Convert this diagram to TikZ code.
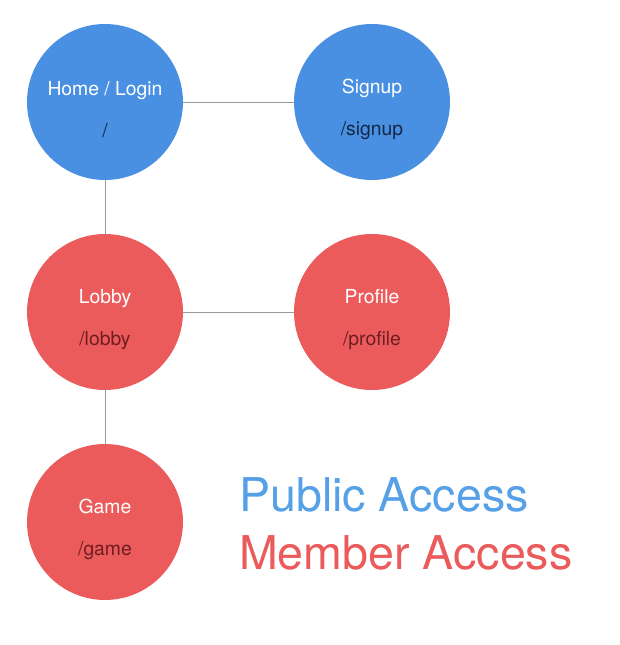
\documentclass[tikz,border=0pt]{standalone}
\usepackage{fontspec}
\setmainfont{TeX Gyre Heros}
\usetikzlibrary{positioning}
\definecolor{pubblue}{RGB}{74, 144, 226}
\definecolor{pubdark}{RGB}{20, 40, 70}
\definecolor{memred}{RGB}{235, 91, 91}
\definecolor{memdark}{RGB}{110, 30, 35}
\definecolor{legblue}{RGB}{86, 160, 232}
\newcommand{\pagetext}[3]{\rule{0pt}{17pt}#1\\{\color{#3}#2}}
\tikzset{
  page/.style={circle, minimum size=#1, inner sep=0pt, align=center,
               font=\fontsize{11}{24}\selectfont, text=white},
  page/.default=3.12cm,
  pubpage/.style={page, fill=pubblue},
  mempage/.style={page, fill=memred},
  link/.style={draw=gray!80, line width=0.5pt},
  legend/.style={anchor=west, font=\fontsize{26.5}{30}\selectfont},
}
\begin{document}
\begin{tikzpicture}[x=0.02cm, y=-0.02cm]
        \useasboundingbox (0,0) rectangle (619,645);
        \fill[white] (0,0) rectangle (619,645);

        \node[pubpage] (home) at (105,102) {\pagetext{Home / Login}{/}{pubdark}};
        \node[pubpage] (signup) at (372,102) {\pagetext{Signup}{/signup}{pubdark}};
        \node[mempage] (lobby) at (105,312) {\pagetext{Lobby}{/lobby}{memdark}};
        \node[mempage] (profile) at (372,312) {\pagetext{Profile}{/profile}{memdark}};
        \node[mempage] (game) at (105,522) {\pagetext{Game}{/game}{memdark}};

        \draw[link] (home) -- (signup);
        \draw[link] (home) -- (lobby);
        \draw[link] (lobby) -- (profile);
        \draw[link] (lobby) -- (game);

        \node[legend, text=legblue] (public) at (233,495) {Public Access};
        \node[legend, text=memred] (member) at (233,553) {Member Access};
      \end{tikzpicture}
\end{document}
